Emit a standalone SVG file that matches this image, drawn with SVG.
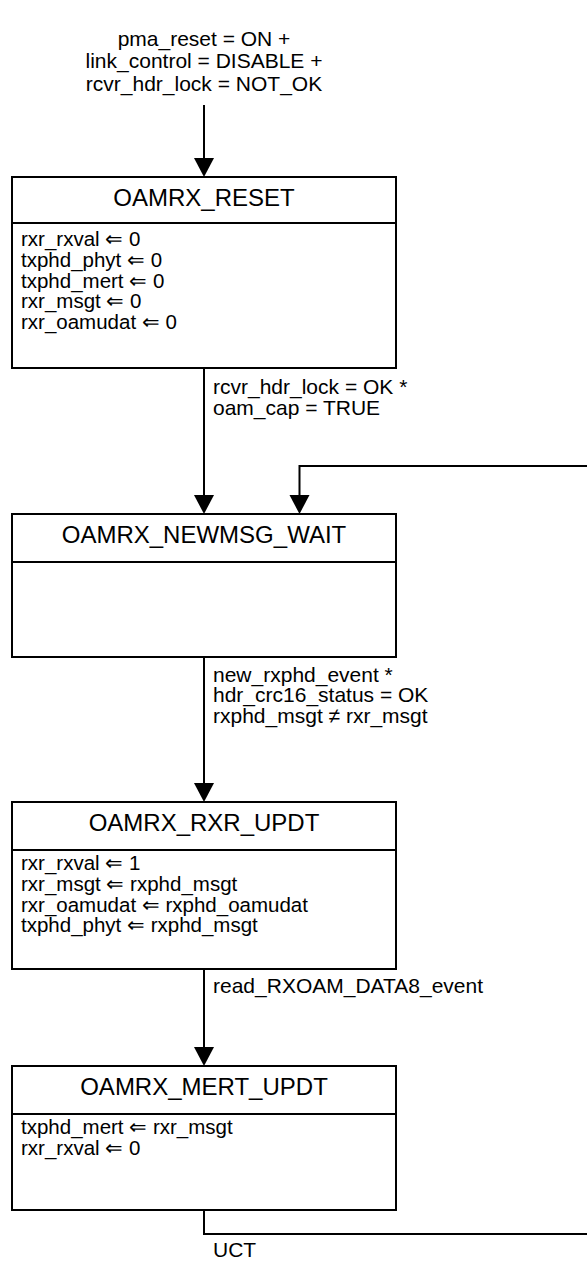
<svg xmlns="http://www.w3.org/2000/svg" width="587" height="1262" viewBox="0 0 587 1262">
<defs>
<style>
.box{fill:#fff;stroke:#000;stroke-width:2}
.div{stroke:#000;stroke-width:2}
.wire{fill:none;stroke:#000;stroke-width:2}
.head{fill:#000}
text{font-family:"Liberation Sans",Arial,sans-serif;fill:#000}
.title{font-size:24px;text-anchor:middle}
.body{font-size:20.5px}
.lbl{font-size:21px}
.top{font-size:21px;text-anchor:middle}
</style>
</defs>
<rect width="587" height="1262" fill="#fff"/>
<g id="connectors">
  <text class="top" x="204" y="46">pma_reset = ON +</text>
  <text class="top" x="204" y="68.3">link_control = DISABLE +</text>
  <text class="top" x="204" y="90.7">rcvr_hdr_lock = NOT_OK</text>
  <line class="wire" x1="204" y1="105" x2="204" y2="160"/>
  <polygon class="head" points="194,158 214,158 204,177"/>

  <line class="wire" x1="204" y1="368" x2="204" y2="497"/>
  <polygon class="head" points="194,495 214,495 204,514"/>
  <text class="lbl" x="213" y="393.5">rcvr_hdr_lock = OK *</text>
  <text class="lbl" x="213" y="415">oam_cap = TRUE</text>

  <line class="wire" x1="204" y1="657" x2="204" y2="785"/>
  <polygon class="head" points="194,783 214,783 204,802"/>
  <text class="lbl" x="213" y="681.7">new_rxphd_event *</text>
  <text class="lbl" x="213" y="702.3">hdr_crc16_status = OK</text>
  <text class="lbl" x="213" y="723">rxphd_msgt ≠ rxr_msgt</text>

  <line class="wire" x1="204" y1="969" x2="204" y2="1049"/>
  <polygon class="head" points="194,1047 214,1047 204,1066"/>
  <text class="lbl" x="213" y="992.7">read_RXOAM_DATA8_event</text>

  <polyline class="wire" points="204,1210 204,1234 600,1234 600,466 299.5,466 299.5,497"/>
  <polygon class="head" points="289.5,495 309.5,495 299.5,514"/>
  <text class="lbl" x="213" y="1256.7">UCT</text>
</g>
<g id="OAMRX_RESET">
  <rect class="box" x="12" y="177" width="384" height="191"/>
  <line class="div" x1="12" y1="223" x2="396" y2="223"/>
  <text class="title" x="204" y="206">OAMRX_RESET</text>
  <text class="body" x="21" y="246">rxr_rxval ⇐ 0</text>
  <text class="body" x="21" y="266.8">txphd_phyt ⇐ 0</text>
  <text class="body" x="21" y="287.5">txphd_mert ⇐ 0</text>
  <text class="body" x="21" y="308.3">rxr_msgt ⇐ 0</text>
  <text class="body" x="21" y="329">rxr_oamudat ⇐ 0</text>
</g>
<g id="OAMRX_NEWMSG_WAIT">
  <rect class="box" x="12" y="514" width="384" height="143"/>
  <line class="div" x1="12" y1="562" x2="396" y2="562"/>
  <text class="title" x="204" y="543">OAMRX_NEWMSG_WAIT</text>
</g>
<g id="OAMRX_RXR_UPDT">
  <rect class="box" x="12" y="802" width="384" height="167"/>
  <line class="div" x1="12" y1="850" x2="396" y2="850"/>
  <text class="title" x="204" y="830.7">OAMRX_RXR_UPDT</text>
  <text class="body" x="21" y="870">rxr_rxval ⇐ 1</text>
  <text class="body" x="21" y="890.7">rxr_msgt ⇐ rxphd_msgt</text>
  <text class="body" x="21" y="911.5">rxr_oamudat ⇐ rxphd_oamudat</text>
  <text class="body" x="21" y="932.2">txphd_phyt ⇐ rxphd_msgt</text>
</g>
<g id="OAMRX_MERT_UPDT">
  <rect class="box" x="12" y="1066" width="384" height="144"/>
  <line class="div" x1="12" y1="1114" x2="396" y2="1114"/>
  <text class="title" x="204" y="1095">OAMRX_MERT_UPDT</text>
  <text class="body" x="21" y="1134">txphd_mert ⇐ rxr_msgt</text>
  <text class="body" x="21" y="1155">rxr_rxval ⇐ 0</text>
</g>
</svg>
